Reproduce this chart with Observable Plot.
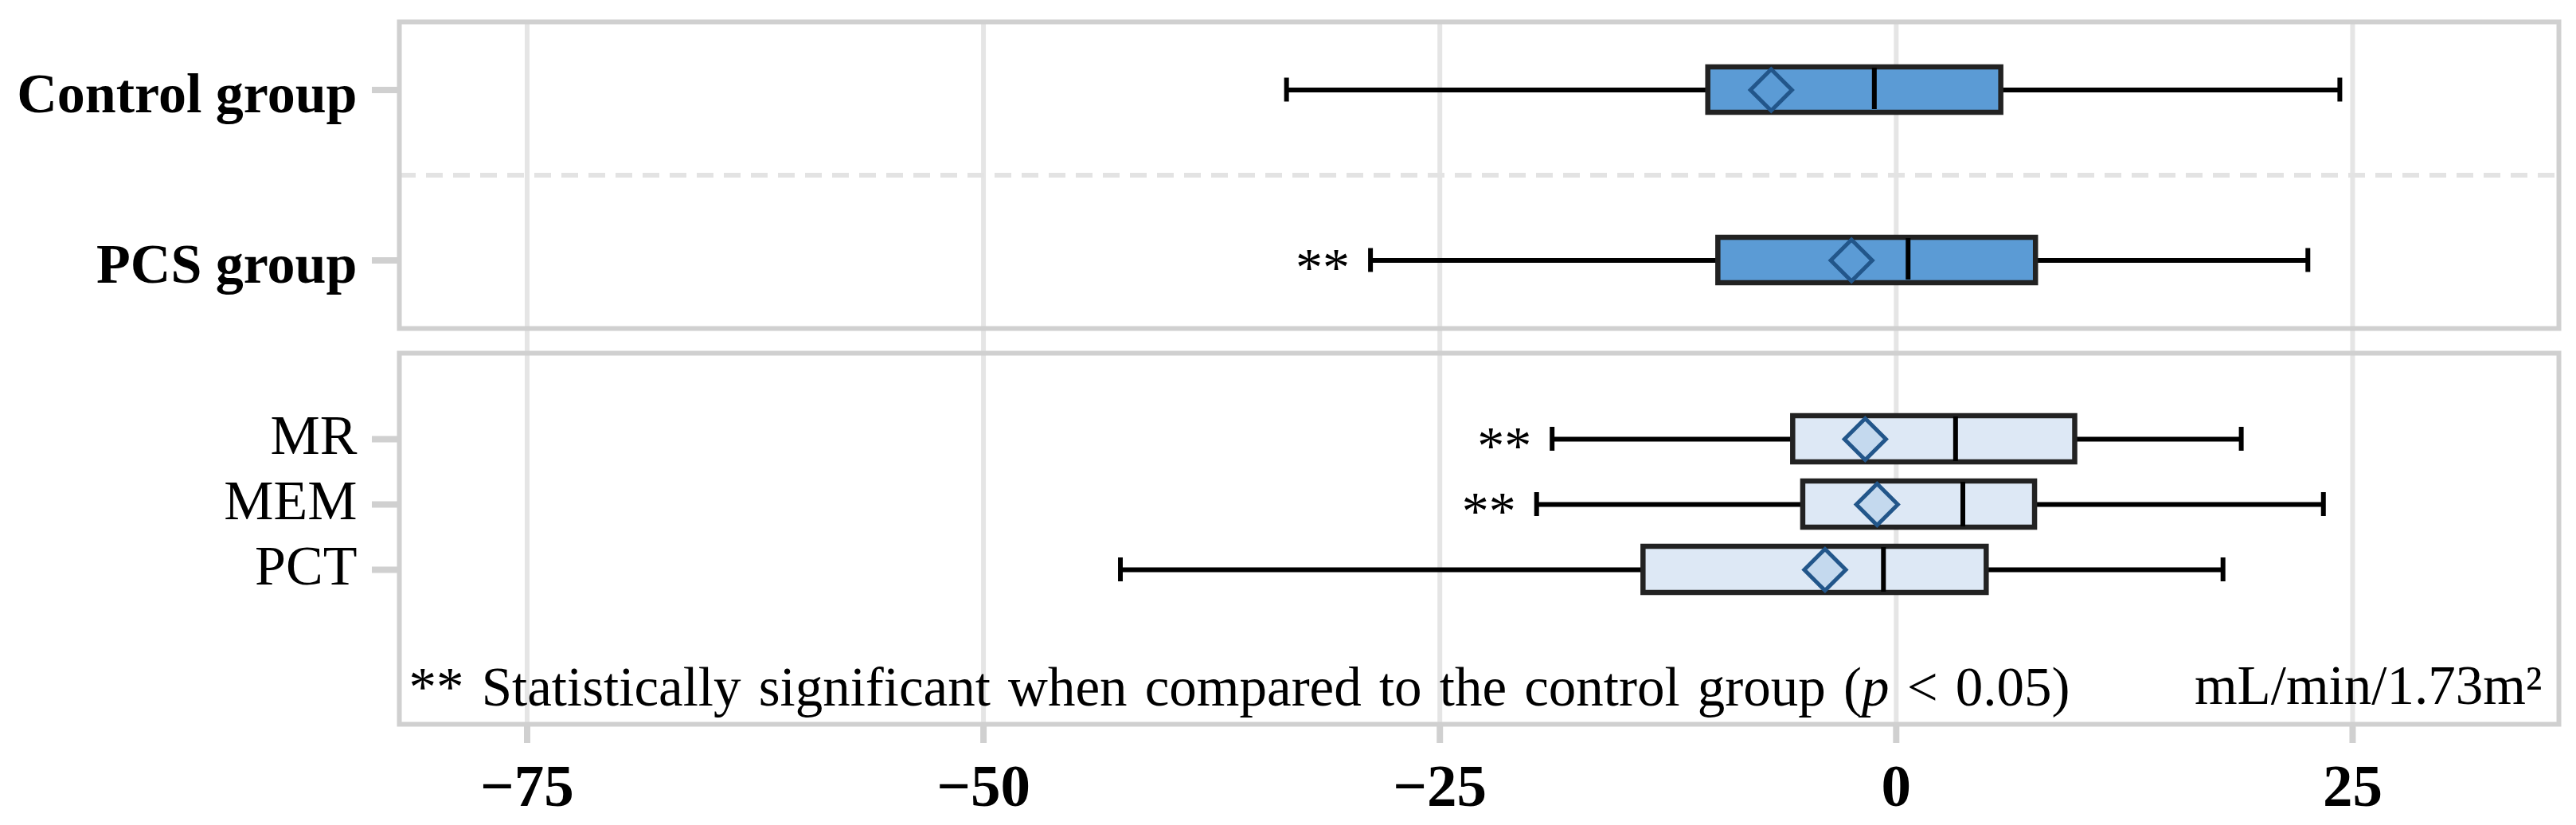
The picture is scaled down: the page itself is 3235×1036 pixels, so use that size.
<!DOCTYPE html>
<html>
<head>
<meta charset="utf-8">
<script src="https://cdn.jsdelivr.net/npm/d3@7"></script>
<script src="https://cdn.jsdelivr.net/npm/@observablehq/plot@0.6"></script>
<style>
  html, body { margin: 0; padding: 0; background: #fff; }
  #chart { width: 3235px; height: 1036px; overflow: hidden; }
  #chart svg { display: block; max-width: none; }
</style>
</head>
<body>
<div id="chart"></div>
<script>
// ---- data ----
const groups      = ["Control group", "PCS group", "MR", "MEM", "PCT"];
const panels      = ["top", "top", "bottom", "bottom", "bottom"];
const whiskerLow  = [-33.4, -28.8, -18.85, -19.7, -42.5];
const q1          = [-10.3, -9.75, -5.65, -5.1, -13.85];
const median      = [-1.2, 0.65, 3.25, 3.65, -0.7];
const q3          = [5.75, 7.65, 9.8, 7.6, 4.95];
const whiskerHigh = [24.3, 22.55, 18.9, 23.4, 17.9];
const mean        = [-6.85, -2.45, -1.7, -1.05, -3.9];
const significant = [false, true, true, true, false];
const xTicks      = [-75, -50, -25, 0, 25];
const xDomain     = [-82, 36.3];
const footnote    = "** Statistically significant when compared to the control group (p < 0.05)";
const unitLabel   = "mL/min/1.73m²";
const sigMark     = "**";

// ---- layout / style ----
const W = 3235;
const FONT = "'Liberation Serif', 'Times New Roman', Times, serif";
const GRID = "#e5e5e5", FRAME = "#d0d0d0", TICK = "#d0d0d0";
const BOX_STROKE = "#222222", DIAMOND_STROKE = "#22568a";

const rows = groups.map((g, i) => ({
  group: g, panel: panels[i], low: whiskerLow[i], q1: q1[i], median: median[i],
  q3: q3[i], high: whiskerHigh[i], mean: mean[i], sig: significant[i]
}));
const topRows = rows.filter(d => d.panel === "top");
const botRows = rows.filter(d => d.panel === "bottom");

function boxMarks(data, o) {
  return [
    Plot.ruleY(data, {y: "group", x1: "low", x2: "high", stroke: "#000", strokeWidth: 6}),
    Plot.tickX(data, {y: "group", x: "low", stroke: "#000", strokeWidth: 6, insetTop: o.capInset, insetBottom: o.capInset}),
    Plot.tickX(data, {y: "group", x: "high", stroke: "#000", strokeWidth: 6, insetTop: o.capInset, insetBottom: o.capInset}),
    Plot.barX(data, {y: "group", x1: "q1", x2: "q3", fill: o.fill, stroke: BOX_STROKE, strokeWidth: 6.5, insetTop: o.boxInset, insetBottom: o.boxInset}),
    Plot.tickX(data, {y: "group", x: "median", stroke: "#000", strokeWidth: 6, insetTop: o.medTop, insetBottom: o.medBottom}),
    Plot.dot(data, {y: "group", x: "mean", symbol: "diamond2", r: 23.5, fill: o.diamondFill, stroke: DIAMOND_STROKE, strokeWidth: 5}),
    Plot.text(data.filter(d => d.sig), {y: "group", x: "low", text: () => sigMark, textAnchor: "end", dx: -26, dy: 9, fontSize: 68, fill: "#000"})
  ];
}

const common = {
  width: W, marginLeft: 501, marginRight: 22,
  style: {fontFamily: FONT, background: "white", overflow: "visible"},
  x: {domain: xDomain, axis: null}
};

const topPlot = Plot.plot({
  ...common,
  height: 430, marginTop: 27, marginBottom: 18,
  y: {type: "band", domain: groups.filter((g, i) => panels[i] === "top"), paddingInner: 0.2093, paddingOuter: 0, axis: null, label: null},
  marks: [
    Plot.ruleX(xTicks, {stroke: GRID, strokeWidth: 6, insetBottom: -18}),
    Plot.ruleY([0], {y: null, stroke: "#e3e3e3", strokeWidth: 6, strokeDasharray: "21,13"}),
    Plot.frame({stroke: FRAME, strokeWidth: 6}),
    Plot.axisY({tickSize: 34, stroke: TICK, strokeWidth: 8, fill: "none", label: null}),
    Plot.axisY({tickSize: 34, tickPadding: 19, stroke: "none", fill: "#000", fontSize: 70, fontWeight: "bold", dy: 6, label: null}),
    ...boxMarks(topRows, {fill: "#5b9bd5", diamondFill: "#5b9bd5", boxInset: 56, capInset: 69.5, medTop: 57, medBottom: 60})
  ]
});

const botPlot = Plot.plot({
  ...common,
  height: 606, marginTop: 13, marginBottom: 127,
  y: {type: "band", domain: groups.filter((g, i) => panels[i] === "bottom"), paddingInner: 0, paddingOuter: 0, insetTop: 66, insetBottom: 153, axis: null, label: null},
  marks: [
    Plot.ruleX(xTicks, {stroke: GRID, strokeWidth: 6, insetTop: -13}),
    Plot.frame({stroke: FRAME, strokeWidth: 6}),
    Plot.axisX(xTicks, {tickSize: 24, stroke: TICK, strokeWidth: 8, fill: "none", label: null}),
    Plot.axisX(xTicks, {tickSize: 24, tickPadding: 25, stroke: "none", fill: "#000", fontSize: 75, fontWeight: "bold", label: null}),
    Plot.axisY({tickSize: 34, stroke: TICK, strokeWidth: 8, fill: "none", label: null}),
    Plot.axisY({tickSize: 34, tickPadding: 19, stroke: "none", fill: "#000", fontSize: 70, dy: -4, label: null}),
    ...boxMarks(botRows, {fill: "#dde8f5", diamondFill: "#c4d9ee", boxInset: 12, capInset: 26, medTop: 13, medBottom: 13}),
    Plot.text([footnote], {frameAnchor: "bottom-left", text: d => d, textAnchor: "start", lineAnchor: "bottom", dx: 12, dy: -24, fontSize: 69, fill: "#000"}),
    Plot.text([unitLabel], {frameAnchor: "bottom-right", text: d => d, textAnchor: "end", lineAnchor: "bottom", dx: -21, dy: -26, fontSize: 69, fill: "#000"})
  ]
});

const chart = document.getElementById("chart");
chart.append(topPlot, botPlot);

// italic "p" and justified word spacing for the footnote
const FOOTNOTE_WIDTH = 2086;
const ns = "http://www.w3.org/2000/svg";
for (const t of chart.querySelectorAll("text")) {
  if (t.textContent === footnote) {
    const [before, after] = footnote.split("(p");
    t.textContent = "";
    const a = document.createElementNS(ns, "tspan"); a.textContent = before + "(";
    const b = document.createElementNS(ns, "tspan"); b.textContent = "p"; b.setAttribute("font-style", "italic");
    const c = document.createElementNS(ns, "tspan"); c.textContent = after;
    t.append(a, b, c);
    const w = t.getComputedTextLength();
    const n = (footnote.match(/ /g) || []).length;
    const extra = (FOOTNOTE_WIDTH - w) / n;
    if (extra > 0) t.style.wordSpacing = extra + "px";
  }
}
</script>
</body>
</html>
